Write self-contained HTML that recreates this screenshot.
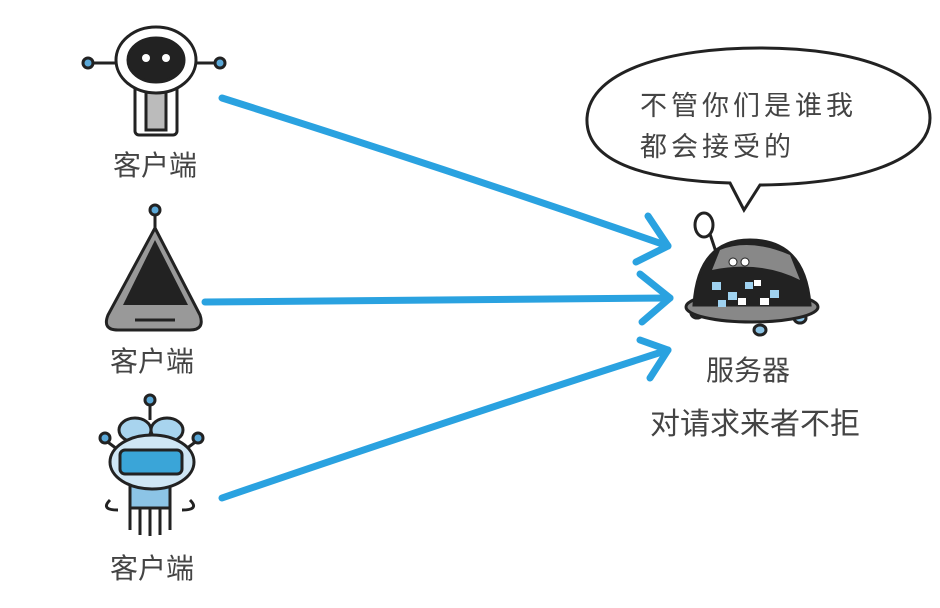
<!DOCTYPE html>
<html><head><meta charset="utf-8"><style>
html,body{margin:0;padding:0;background:#fff;width:940px;height:608px;overflow:hidden}
svg text{font-family:"Liberation Sans","Noto Sans CJK SC",sans-serif;fill:#444}
</style></head><body>
<svg width="940" height="608" viewBox="0 0 940 608" xmlns="http://www.w3.org/2000/svg">
<g stroke="#2aa2e0" stroke-width="7" fill="none" stroke-linecap="round" stroke-linejoin="round">
<path d="M222 98 Q450 170 668 246"/><path d="M648 216 L668 246 L636 262"/>
<path d="M205 302 L670 298"/><path d="M640 274 L670 298 L642 322"/>
<path d="M222 498 Q450 420 668 350"/><path d="M640 340 L668 350 L650 378"/>
</g>
<path d="M744 210 L730 183 C640 180 585 160 587 118 C590 70 670 48 760 48 C860 48 930 75 930 118 C930 160 860 184 760 185 Z" fill="#fff" stroke="#222" stroke-width="3"/>
<text x="640" y="115" font-size="27" letter-spacing="4" fill="#222">不管你们是谁我</text>
<text x="640" y="156" font-size="27" letter-spacing="4" fill="#222">都会接受的</text>
<g stroke="#222" stroke-width="3">
<line x1="88" y1="63" x2="222" y2="63"/>
<circle cx="88" cy="63" r="5" fill="#5aa8d8"/><circle cx="220" cy="63" r="5" fill="#5aa8d8"/>
<rect x="135" y="85" width="42" height="50" rx="4" fill="#fff"/>
<rect x="146" y="90" width="20" height="40" fill="#bbb"/>
<ellipse cx="156" cy="60" rx="40" ry="33" fill="#fff"/>
<ellipse cx="156" cy="60" rx="28" ry="22" fill="#222"/>
</g>
<circle cx="146" cy="58" r="4" fill="#fff"/><circle cx="166" cy="58" r="4" fill="#fff"/>
<text x="155" y="175" font-size="28" text-anchor="middle">客户端</text>
<g stroke="#222" stroke-width="3">
<line x1="155" y1="210" x2="155" y2="232"/><circle cx="155" cy="210" r="5" fill="#5aa8d8"/>
<path d="M155 228 L200 315 Q205 330 190 330 L118 330 Q102 330 108 315 Z" fill="#999"/>
<path d="M155 240 L188 305 L123 305 Z" fill="#222" stroke="none"/>
<line x1="135" y1="320" x2="175" y2="320"/>
</g>
<text x="152" y="371" font-size="28" text-anchor="middle">客户端</text>
<g stroke="#222" stroke-width="3">
<line x1="150" y1="400" x2="150" y2="420"/><circle cx="150" cy="400" r="5" fill="#5aa8d8"/>
<line x1="105" y1="440" x2="125" y2="455"/><line x1="198" y1="440" x2="178" y2="455"/>
<circle cx="105" cy="438" r="5" fill="#5aa8d8"/><circle cx="198" cy="438" r="5" fill="#5aa8d8"/>
<ellipse cx="135" cy="430" rx="16" ry="12" fill="#a8d4ee"/><ellipse cx="167" cy="430" rx="16" ry="12" fill="#a8d4ee"/>
<path d="M110 500 Q100 510 118 510 M190 500 Q200 510 182 510" fill="none"/>
<path d="M130 475 L130 530 M140 478 L140 535 M150 478 L150 536 M160 478 L160 535 M170 475 L170 530" fill="none"/>
<rect x="130" y="478" width="40" height="30" fill="#8cc4e6"/>
<ellipse cx="152" cy="462" rx="42" ry="27" fill="#cfe6f4"/>
<rect x="120" y="450" width="62" height="24" rx="5" fill="#3aa5d8"/>
</g>
<text x="152" y="578" font-size="28" text-anchor="middle">客户端</text>
<g stroke="#222" stroke-width="3">
<line x1="708" y1="228" x2="718" y2="258"/>
<ellipse cx="704" cy="225" rx="9" ry="12" fill="#fff"/>
<ellipse cx="697" cy="313" rx="6" ry="5" fill="#8cc4e6"/><ellipse cx="760" cy="330" rx="6" ry="5" fill="#8cc4e6"/><ellipse cx="800" cy="318" rx="6" ry="5" fill="#8cc4e6"/>
<ellipse cx="752" cy="307" rx="66" ry="15" fill="#888"/>
<path d="M694 305 Q698 240 750 240 Q805 240 810 305 Z" fill="#222"/>
<path d="M720 250 Q750 238 790 255 L800 280 Q760 260 712 270 Z" fill="#888" stroke="none"/>
</g>
<circle cx="733" cy="262" r="4" fill="#fff" stroke="#222"/><circle cx="745" cy="262" r="4" fill="#fff" stroke="#222"/>
<g fill="#9fd2f0"><rect x="712" y="282" width="9" height="8"/><rect x="728" y="292" width="9" height="8"/><rect x="745" y="282" width="8" height="7"/><rect x="770" y="290" width="9" height="8"/><rect x="718" y="300" width="8" height="7"/></g>
<g fill="#fff"><rect x="738" y="298" width="8" height="7"/><rect x="760" y="298" width="9" height="7"/><rect x="754" y="280" width="7" height="6"/></g>
<text x="748" y="380" font-size="28" text-anchor="middle">服务器</text>
<text x="755" y="434" font-size="30" text-anchor="middle">对请求来者不拒</text>
</svg>
</body></html>
